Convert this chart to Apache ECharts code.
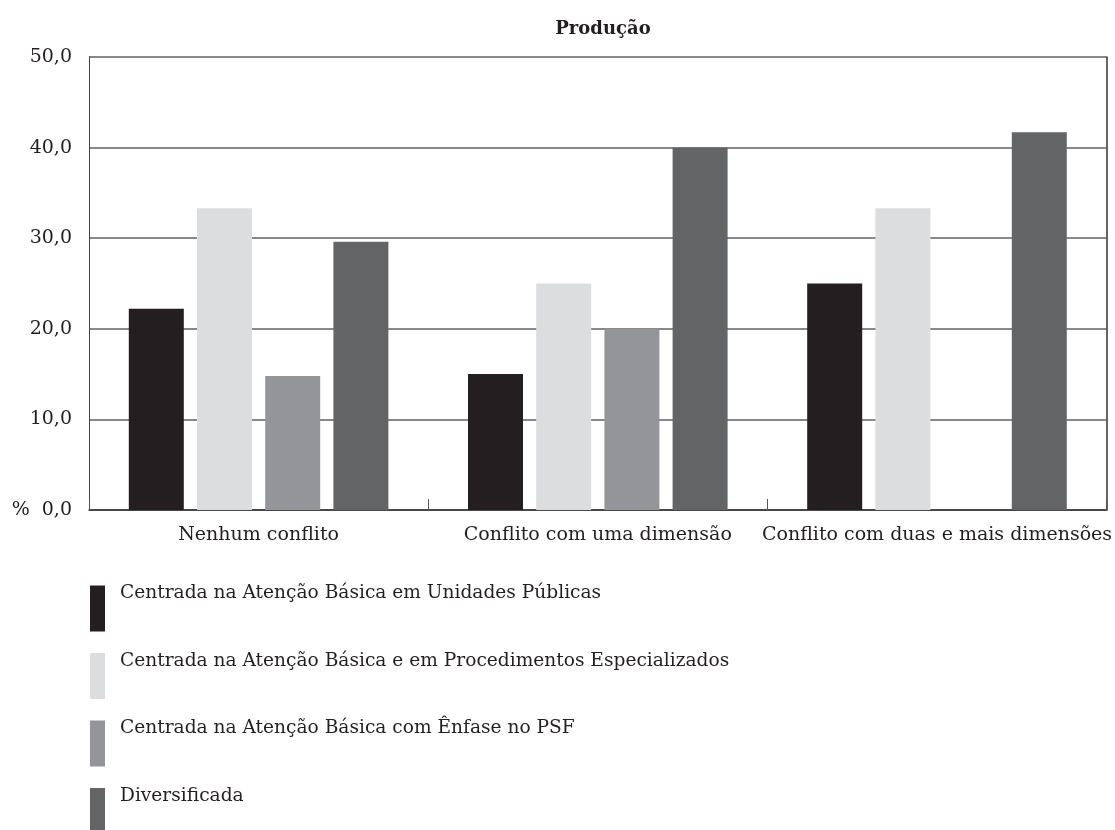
<!DOCTYPE html>
<html><head><meta charset="utf-8">
<script src="https://cdn.jsdelivr.net/npm/echarts@6/dist/echarts.min.js"></script>
<style>html,body{margin:0;padding:0;background:#fff}#c{width:1115px;height:830px}</style>
</head><body><div id="c"></div>
<script>
const categories = ['Nenhum conflito', 'Conflito com uma dimensão', 'Conflito com duas e mais dimensões'];
const seriesNames = [
  'Centrada na Atenção Básica em Unidades Públicas',
  'Centrada na Atenção Básica e em Procedimentos Especializados',
  'Centrada na Atenção Básica com Ênfase no PSF',
  'Diversificada'
];
const unidadesPublicas = [22.2, 15.0, 25.0];
const procedimentosEspecializados = [33.3, 25.0, 33.3];
const enfasePSF = [14.8, 20.0, 0];
const diversificada = [29.6, 40.0, 41.7];
const colors = ['#231f20', '#dcdddf', '#939598', '#636466'];
const yTicks = [0, 10, 20, 30, 40, 50];

const FONT = 'DejaVu Serif';
const FS = 19;
const LFS = 18.6;
const values = [unidadesPublicas, procedimentosEspecializados, enfasePSF, diversificada];
const chart = echarts.init(document.getElementById('c'), null, {renderer: 'canvas'});
chart.setOption({
  animation: false,
  backgroundColor: '#fff',
  textStyle: {fontFamily: FONT},
  title: {
    text: 'Produção', left: 598, top: 15, textAlign: 'center',
    textStyle: {fontFamily: FONT, fontSize: 18, fontWeight: 'bold', color: '#231f20'}
  },
  grid: {left: 89, right: 8, top: 57, bottom: 320},
  legend: {
    orient: 'vertical', left: 90, top: 584, itemGap: 20, padding: 0, height: 260,
    itemWidth: 15, itemHeight: 46, icon: 'rect',
    data: seriesNames,
    formatter: '{t|{name}}',
    textStyle: {
      fontFamily: FONT, fontSize: LFS, color: '#231f20',
      rich: {t: {fontFamily: FONT, fontSize: LFS, color: '#231f20', padding: [0, 0, 30, 10]}}
    },
    itemStyle: {borderWidth: 0}
  },
  xAxis: {
    type: 'category', data: categories,
    axisLine: {lineStyle: {color: '#333', width: 1.5}},
    axisTick: {show: true, inside: true, length: 11, lineStyle: {color: '#555'}},
    axisLabel: {fontFamily: FONT, fontSize: FS, color: '#231f20', margin: 16, interval: 0}
  },
  yAxis: [{
    type: 'value', min: yTicks[0], max: yTicks[yTicks.length - 1], interval: 10,
    axisLine: {show: true, lineStyle: {color: '#444', width: 1}},
    axisTick: {show: false},
    splitLine: {show: true, lineStyle: {color: '#888', width: 2}},
    axisLabel: {
      fontFamily: FONT, fontSize: FS, color: '#231f20', margin: 17,
      formatter: v => (v === 0 ? '%  ' : '') + v.toFixed(1).replace('.', ',')
    }
  }, {
    type: 'value', min: 0, max: 50, interval: 10, position: 'right',
    axisLine: {show: true, lineStyle: {color: '#333', width: 1.5}},
    axisTick: {show: false}, axisLabel: {show: false}, splitLine: {show: false}
  }],
  series: seriesNames.map((name, i) => ({
    name, type: 'bar', data: values[i], barWidth: 55, barGap: '24%',
    itemStyle: {color: colors[i]}
  }))
});
</script></body></html>
